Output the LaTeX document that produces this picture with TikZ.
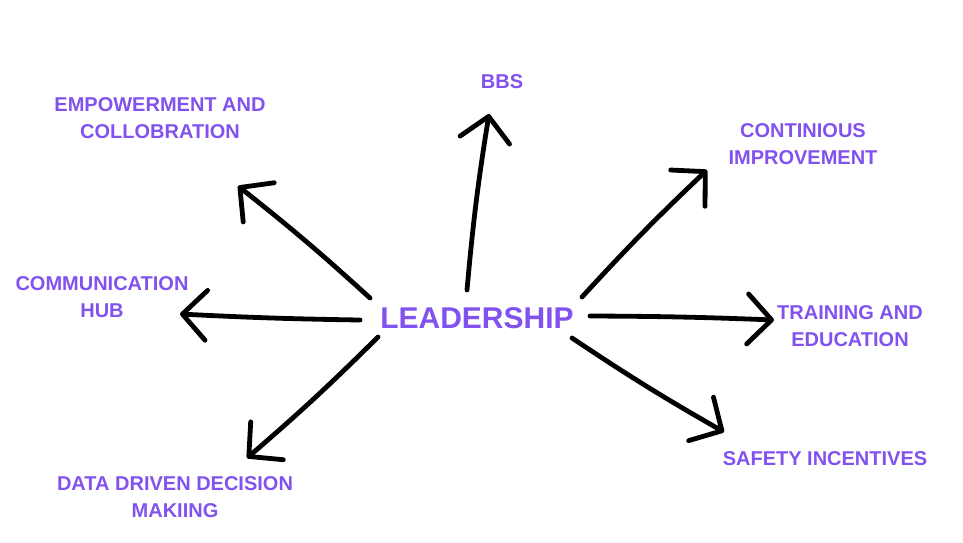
\documentclass[tikz,border=0pt]{standalone}
\usepackage{fontspec}
\setmainfont{Liberation Sans}
\usetikzlibrary{arrows.meta}
\definecolor{lblpurple}{HTML}{8152EE}
\tikzset{
  lbl/.style={text=lblpurple, font=\bfseries\fontsize{20}{27}\selectfont, align=center, inner sep=0pt},
  ray/.style={line width=4.8pt, line cap=round, -{Straight Barb[length=24pt,width=50pt,line cap=round,line join=round]}},
}
\begin{document}
\begin{tikzpicture}[x=1pt,y=-1pt]
\useasboundingbox (0,0) rectangle (963,542);
\node[text=lblpurple, font=\bfseries\fontsize{30}{32}\selectfont, inner sep=0pt] (lead) at (477,318) {LEADERSHIP};
\node[lbl] (bbs) at (502,82) {BBS};
\node[lbl] (emp) at (160,118) {EMPOWERMENT AND\\COLLOBRATION};
\node[lbl] (con) at (803,144) {CONTINIOUS\\IMPROVEMENT};
\node[lbl] (com) at (102,297) {COMMUNICATION\\HUB};
\node[lbl] (tra) at (850,326) {TRAINING AND\\EDUCATION};
\node[lbl] (saf) at (825,459) {SAFETY INCENTIVES};
\node[lbl] (dat) at (175,497) {DATA DRIVEN DECISION\\MAKIING};
% arrow ends
\coordinate (s1) at (467,290); \coordinate (t1) at (489,114);
\coordinate (s2) at (370,298); \coordinate (t2) at (238,186);
\coordinate (s3) at (360,320); \coordinate (t3) at (180,314);
\coordinate (s4) at (378,337); \coordinate (t4) at (247,458);
\coordinate (s5) at (582,297); \coordinate (t5) at (707,170);
\coordinate (s6) at (590,316); \coordinate (t6) at (774,320);
\coordinate (s7) at (572,338); \coordinate (t7) at (724,432);
\draw[ray] (s1) to[bend left=2] (t1);
\draw[ray] (s2) to[bend right=2] (t2);
\draw[ray] (s3) to[bend left=1] (t3);
\draw[ray] (s4) to[bend left=2] (t4);
\draw[ray] (s5) to[bend left=2] (t5);
\draw[ray] (s6) to[bend left=1] (t6);
\draw[ray] (s7) to[bend right=2] (t7);
\end{tikzpicture}
\end{document}
